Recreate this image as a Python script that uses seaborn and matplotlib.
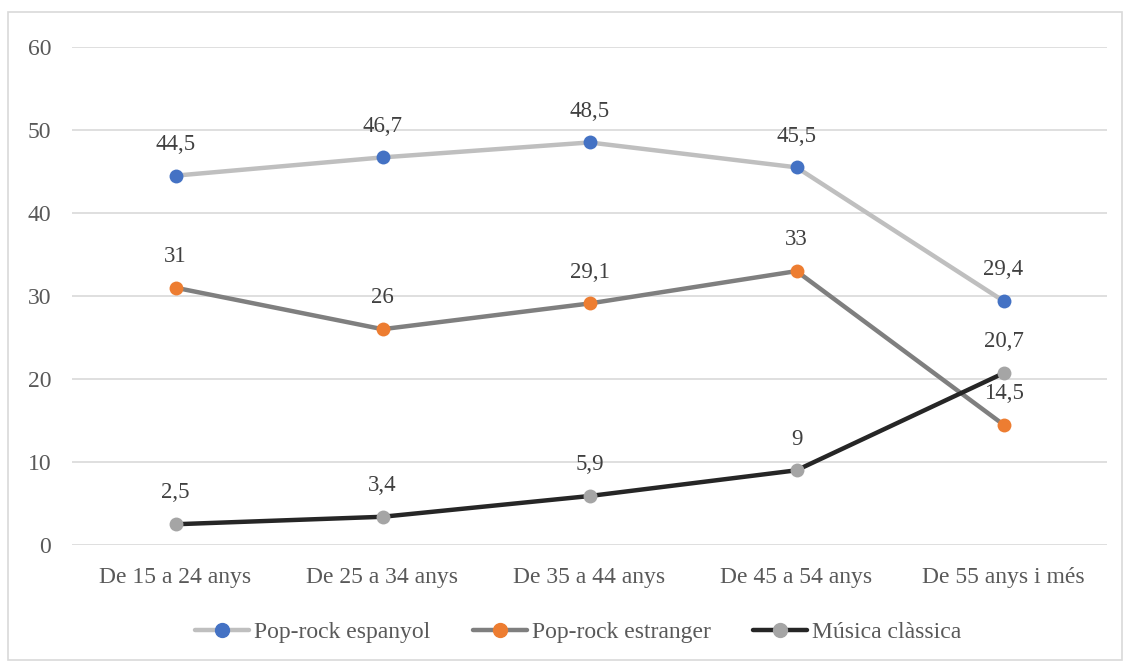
import matplotlib
matplotlib.use("Agg")
import matplotlib.pyplot as plt
import seaborn as sns
import pandas as pd
from matplotlib.lines import Line2D
from matplotlib.patches import Rectangle

categories = ["De 15 a 24 anys", "De 25 a 34 anys", "De 35 a 44 anys",
              "De 45 a 54 anys", "De 55 anys i més"]
pop_rock_espanyol = [44.5, 46.7, 48.5, 45.5, 29.4]
pop_rock_estranger = [31, 26, 29.1, 33, 14.5]
musica_classica = [2.5, 3.4, 5.9, 9, 20.7]
series_names = ["Pop-rock espanyol", "Pop-rock estranger", "Música clàssica"]

sns.set_theme(style="white")
plt.rcParams["font.family"] = ["Liberation Serif", "DejaVu Serif"]

line_colors = ["#BFBFBF", "#7F7F7F", "#262626"]
marker_colors = ["#4472C4", "#ED7D31", "#A5A5A5"]

fig = plt.figure(figsize=(11.3, 6.66), dpi=100)
ax = fig.add_axes([72 / 1130, 121 / 666, 1035 / 1130, 498 / 666])

fig.add_artist(Rectangle((8 / 1130, 6 / 666), 1114 / 1130, 648 / 666,
                         transform=fig.transFigure, fill=False,
                         edgecolor="#D9D9D9", linewidth=1.2))

all_values = [pop_rock_espanyol, pop_rock_estranger, musica_classica]
xs = list(range(len(categories)))
for name, vals, lc, mc in zip(series_names, all_values, line_colors, marker_colors):
    df = pd.DataFrame({"x": xs, "y": vals})
    sns.lineplot(data=df, x="x", y="y", ax=ax, color=lc, linewidth=3.2,
                 marker="o", markersize=10, markerfacecolor=mc,
                 markeredgecolor=mc, markeredgewidth=0, zorder=3)
    for xi, v in zip(xs, vals):
        label = f"{v:g}".replace(".", ",")
        ax.annotate(label, (xi, v), xytext=(0, 22.5), textcoords="offset points",
                    ha="center", va="center", fontsize=16.5, color="#404040")

ax.set_xlim(-0.5, len(categories) - 0.5)
ax.set_ylim(0, 60)
ax.set_yticks(range(0, 61, 10))
ax.set_xticks(xs)
ax.set_xticklabels(categories)
ax.set_xlabel("")
ax.set_ylabel("")
ax.grid(axis="y", color="#D9D9D9", linewidth=1.2)
ax.grid(axis="x", visible=False)
for s in ax.spines.values():
    s.set_visible(False)
ax.tick_params(axis="both", length=0, labelsize=17, labelcolor="#595959")
ax.tick_params(axis="y", pad=15)
ax.tick_params(axis="x", pad=15.5)

handles = [Line2D([0], [0], color=lc, linewidth=3.2, marker="o", markersize=10,
                  markerfacecolor=mc, markeredgecolor=mc)
           for lc, mc in zip(line_colors, marker_colors)]
leg = fig.legend(handles, series_names, loc="center",
                 bbox_to_anchor=(578 / 1130, 34 / 666),
                 ncol=3, frameon=False, fontsize=17, handlelength=2.3,
                 handletextpad=0.2, columnspacing=1.8)
for t in leg.get_texts():
    t.set_color("#595959")

fig.savefig("out.png", dpi=100)
